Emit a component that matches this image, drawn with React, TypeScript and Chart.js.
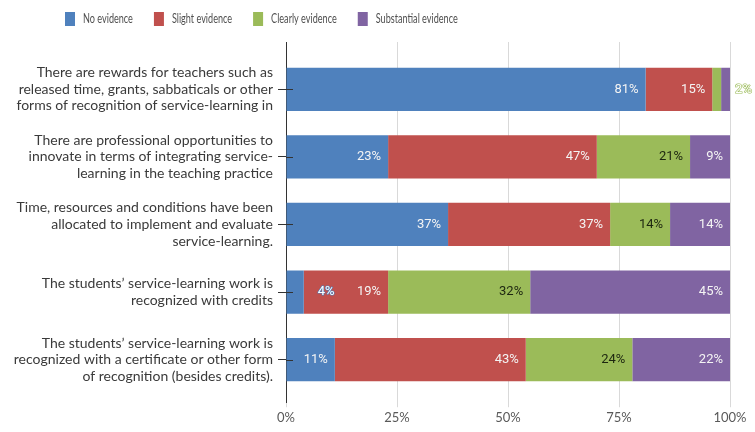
import React, { useEffect, useRef } from "react";
import { Chart, registerables } from "chart.js";

Chart.register(...registerables);

const categories: string[][] = [
  ["There are rewards for teachers such as", "released time, grants, sabbaticals or other", "forms of recognition of service-learning in"],
  ["There are professional opportunities to", "innovate in terms of integrating service-", "learning in the teaching practice"],
  ["Time, resources and conditions have been", "allocated to implement and evaluate", "service-learning."],
  ["The students’ service-learning work is", "recognized with credits"],
  ["The students’ service-learning work is", "recognized with a certificate or other form", "of recognition (besides credits)."],
];

const seriesNames = ["No evidence", "Slight evidence", "Clearly evidence", "Substantial evidence"];
const noEvidence = [81, 23, 36.5, 4, 11];
const slightEvidence = [15, 47, 36.5, 19, 43];
const clearlyEvidence = [2, 21, 13.5, 32, 24];
const substantialEvidence = [2, 9, 13.5, 45, 22];
const xTicks = [0, 25, 50, 75, 100];

const colors = ["#4f81bd", "#c0504d", "#9bbb59", "#8064a2"];
const labelColors = ["#f4f4f4", "#f4f4f4", "#1d2610", "#f4f4f4"];

const seriesValues = [noEvidence, slightEvidence, clearlyEvidence, substantialEvidence];

const legendPlugin = {
  id: "customLegend",
  afterDraw(chart: any) {
    const ctx = chart.ctx;
    ctx.save();
    ctx.font = "13px Lato";
    ctx.textBaseline = "middle";
    ctx.textAlign = "left";
    const squeeze = 0.7;
    let x = 65;
    const yc = 19;
    chart.data.datasets.forEach((ds: any) => {
      ctx.fillStyle = ds.backgroundColor;
      ctx.fillRect(x, yc - 7, 10, 14);
      x += 18;
      ctx.fillStyle = "#505050";
      ctx.save();
      ctx.translate(x, yc);
      ctx.scale(squeeze, 1);
      ctx.fillText(ds.label, 0, 0);
      ctx.restore();
      x += ctx.measureText(ds.label).width * squeeze + 21;
    });
    ctx.restore();
  },
};

const labelPlugin = {
  id: "segmentLabels",
  afterDatasetsDraw(chart: any) {
    const ctx = chart.ctx;
    ctx.save();
    ctx.font = "13px Roboto";
    ctx.textBaseline = "middle";
    chart.data.datasets.forEach((ds: any, di: number) => {
      const meta = chart.getDatasetMeta(di);
      meta.data.forEach((el: any, j: number) => {
        const v = ds.data[j].x;
        const text = Math.round(v) + "%";
        const { x, base, y } = el.getProps(["x", "base", "y"], true);
        const segW = x - base;
        const tw = ctx.measureText(text).width;
        if (tw + 14 <= segW) {
          ctx.textAlign = "right";
          ctx.fillStyle = labelColors[di];
          ctx.fillText(text, x - 7, y);
        } else {
          const lx = x + 14;
          if (lx + tw > chart.width) return;
          ctx.textAlign = "left";
          ctx.lineWidth = 1.2;
          ctx.strokeStyle = ds.backgroundColor;
          ctx.strokeText(text, lx, y);
          ctx.fillStyle = "#ffffff";
          ctx.fillText(text, lx, y);
        }
      });
    });
    const ys = chart.scales.y;
    const left = chart.chartArea.left;
    ctx.strokeStyle = "#333";
    ctx.lineWidth = 1;
    ys.ticks.forEach((t: any) => {
      const py = Math.round(ys.getPixelForValue(t.value)) + 0.5;
      ctx.beginPath();
      ctx.moveTo(left, py);
      ctx.lineTo(left + 7, py);
      ctx.stroke();
    });
    ctx.restore();
  },
};

export default function App() {
  const ref = useRef<HTMLCanvasElement | null>(null);
  useEffect(() => {
    if (!ref.current) return;
    Chart.defaults.font.family = "Lato";
    const chart = new Chart(ref.current, {
      type: "bar",
      data: {
        datasets: seriesNames.map((name, i) => ({
          label: name,
          data: seriesValues[i].map((v, j) => ({ x: v, y: j })),
          backgroundColor: colors[i],
          borderWidth: 0,
          barPercentage: 0.8,
          categoryPercentage: 0.8,
        })),
      },
      options: {
        indexAxis: "y",
        responsive: false,
        animation: false,
        layout: { padding: { top: 42, right: 25, bottom: 0, left: 0 } },
        plugins: { legend: { display: false }, tooltip: { enabled: false } },
        scales: {
          x: {
            type: "linear",
            stacked: true,
            min: 0,
            max: 100,
            afterBuildTicks: (s: any) => {
              s.ticks = xTicks.map((v) => ({ value: v }));
            },
            ticks: {
              callback: (v: any) => v + "%",
              font: { family: "Lato", size: 13 },
              color: "#595959",
              padding: 3,
              maxRotation: 0,
            },
            grid: { color: "#d9d9d9", drawTicks: true, tickLength: 5 },
            border: { display: false },
            afterFit: (s: any) => {
              s.height = 24;
            },
          },
          y: {
            type: "linear",
            stacked: true,
            reverse: true,
            offset: false,
            min: -0.7,
            max: 4.63,
            z: 1,
            afterBuildTicks: (s: any) => {
              s.ticks = categories.map((_, i) => ({ value: i }));
            },
            ticks: {
              autoSkip: false,
              callback: (v: any) => categories[v] || "",
              font: { family: "Lato", size: 14, lineHeight: 1.18 },
              color: "#3a3a3a",
              padding: 5,
            },
            grid: { offset: false, drawOnChartArea: false, drawTicks: true, tickLength: 8, color: "#333" },
            border: { display: true, color: "#333", width: 1 },
            afterFit: (s: any) => {
              s.width = 286;
            },
          },
        },
      },
      plugins: [labelPlugin, legendPlugin],
    } as any);
    return () => chart.destroy();
  }, []);
  return (
    <div style={{ position: "fixed", left: 0, top: 0, width: 755, height: 432, background: "#fff" }}>
      <canvas ref={ref} width={755} height={432} />
    </div>
  );
}
